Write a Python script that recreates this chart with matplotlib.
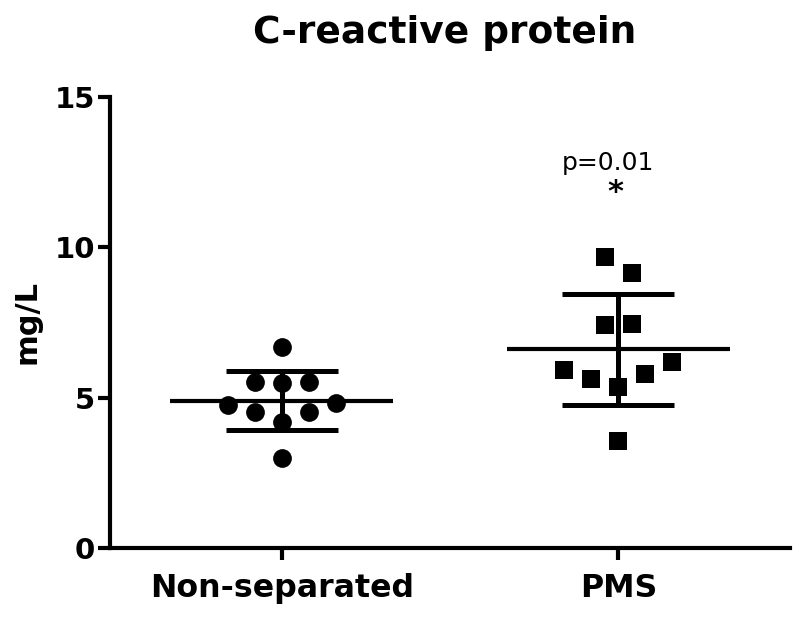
import numpy as np
import matplotlib
matplotlib.use("Agg")
import matplotlib.pyplot as plt

# Data
categories = ["Non-separated", "PMS"]
nonsep_values = [6.69, 5.52, 5.48, 5.52, 4.76, 4.81, 4.51, 4.51, 4.20, 2.98]
nonsep_offsets = [0.0, -0.08, 0.0, 0.08, -0.16, 0.16, -0.08, 0.08, 0.0, 0.0]
pms_values = [9.67, 9.16, 7.42, 7.45, 5.92, 5.61, 5.34, 5.79, 6.18, 3.56]
pms_offsets = [-0.04, 0.04, -0.04, 0.04, -0.16, -0.08, 0.0, 0.08, 0.16, 0.0]
yticks = [0, 5, 10, 15]
title = "C-reactive protein"
ylabel = "mg/L"
annot = "p=0.01"

plt.rcParams['font.family'] = ['DejaVu Sans']

fig = plt.figure(figsize=(8, 6.18), dpi=100)
ax = fig.add_axes([110/800, 1-548/618, 680/800, (548-97)/618])

lw = 3.0
groups = [(nonsep_values, nonsep_offsets, 'o'), (pms_values, pms_offsets, 's')]
for i, (vals, offs, mk) in enumerate(groups):
    v = np.array(vals)
    x = i + np.array(offs)
    ax.plot(x, v, linestyle='none', marker=mk, markersize=13.5, color='black',
            markeredgewidth=0, zorder=3, clip_on=False)
    m = v.mean()
    sd = v.std(ddof=1)
    ax.plot([i - 0.332, i + 0.332], [m, m], color='black', lw=3.0, zorder=2,
            solid_capstyle='butt')
    ax.plot([i - 0.166, i + 0.166], [m + sd, m + sd], color='black', lw=3.6, zorder=2,
            solid_capstyle='butt')
    ax.plot([i - 0.166, i + 0.166], [m - sd, m - sd], color='black', lw=3.6, zorder=2,
            solid_capstyle='butt')
    ax.plot([i, i], [m - sd, m + sd], color='black', lw=3.6, zorder=2,
            solid_capstyle='butt')

ax.set_xlim(-0.51, 1.51)
ax.set_ylim(0, 15)
ax.set_xticks([0, 1])
ax.set_xticklabels(categories, fontsize=22.8, fontweight='bold')
ax.set_yticks(yticks)
ax.set_yticklabels([str(t) for t in yticks], fontsize=21, fontweight='bold')
ax.tick_params(axis='both', length=8.6, width=lw, color='black')
ax.tick_params(axis='y', pad=2)
ax.tick_params(axis='x', pad=9.5)
for s in ['top', 'right']:
    ax.spines[s].set_visible(False)
for s in ['left', 'bottom']:
    ax.spines[s].set_linewidth(lw)
    ax.spines[s].set_capstyle('projecting')

ax.text(0.968, 12.57, annot, fontsize=18, ha='center', va='baseline')
ax.text(0.99, 11.84, "*", fontsize=22, fontweight='bold', ha='center', va='center')

fig.text(445/800, 1-43/618, title, fontsize=27, fontweight='bold',
         ha='center', va='baseline')
fig.text(27/800, 1-322/618, ylabel, fontsize=22, fontweight='bold',
         rotation=90, ha='center', va='center')

fig.savefig("out.png", dpi=100)
